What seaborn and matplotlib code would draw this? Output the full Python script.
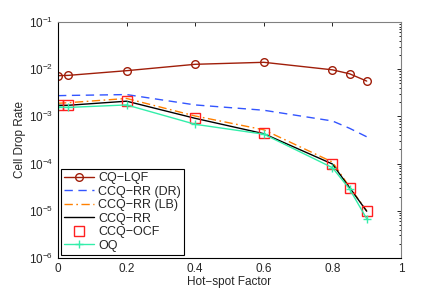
import matplotlib
matplotlib.use("Agg")
import matplotlib.pyplot as plt
import seaborn as sns
import pandas as pd
import numpy as np

x = [0, 0.03, 0.2, 0.4, 0.6, 0.8, 0.85, 0.9]
cq_lqf = [7.3e-3, 7.4e-3, 9.3e-3, 1.27e-2, 1.4e-2, 9.7e-3, 8.0e-3, 5.6e-3]
ccq_rr_dr = [2.75e-3, 2.78e-3, 2.9e-3, 1.75e-3, 1.35e-3, 8.0e-4, 5.6e-4, 3.7e-4]
ccq_rr_lb = [1.9e-3, 1.95e-3, 2.4e-3, 1.02e-3, 5.2e-4, 1.08e-4, 3.2e-5, 1.0e-5]
ccq_rr = [1.72e-3, 1.72e-3, 2.1e-3, 9.1e-4, 4.3e-4, 9.8e-5, 3.1e-5, 9.8e-6]
ccq_ocf = [1.75e-3, 1.75e-3, 2.15e-3, 9.2e-4, 4.4e-4, 9.6e-5, 3.1e-5, 9.8e-6]
oq = [1.6e-3, 1.55e-3, 1.75e-3, 6.8e-4, 4.2e-4, 8.2e-5, 2.9e-5, 6.8e-6]

labels = ["CQ\u2212LQF", "CCQ\u2212RR (DR)", "CCQ\u2212RR (LB)", "CCQ\u2212RR", "CCQ\u2212OCF", "OQ"]
xticks = [0, 0.2, 0.4, 0.6, 0.8, 1]
xticklabels = ["0", "0.2", "0.4", "0.6", "0.8", "1"]

sns.set_style("white")
plt.rcParams['font.family'] = ['Liberation Sans', 'DejaVu Sans']
plt.rcParams['mathtext.fontset'] = 'custom'
plt.rcParams['mathtext.rm'] = 'Liberation Sans'
plt.rcParams['mathtext.it'] = 'Liberation Sans'

fig = plt.figure(figsize=(4.43, 2.91), dpi=100)
ax = fig.add_axes([58/443, 33/291, 343/443, 236/291])

series = [cq_lqf, ccq_rr_dr, ccq_rr_lb, ccq_rr, ccq_ocf, oq]
df = pd.DataFrame({
    "x": x * 6,
    "y": sum(series, []),
    "s": sum([[l] * len(x) for l in labels], []),
})

styles = {
    labels[0]: dict(color="#a01e0a", ls="-", marker="o", mfc="none", ms=5.5, lw=1.0, mew=1.0),
    labels[1]: dict(color="#3355ff", ls=(0, (6, 4)), marker=None, lw=1.0),
    labels[2]: dict(color="#ff8000", ls=(0, (6, 2.5, 1.2, 2.5)), marker=None, lw=1.0),
    labels[3]: dict(color="black", ls="-", marker=None, lw=1.0),
    labels[4]: dict(color="#ff2020", ls="none", marker="s", mfc="none", ms=7, mew=1.0),
    labels[5]: dict(color="#33eeaa", ls="-", marker="+", ms=6, lw=1.0, mew=1.0),
}

for lab in labels:
    d = df[df.s == lab]
    st = styles[lab]
    sns.lineplot(data=d, x="x", y="y", ax=ax, label=lab, color=st["color"],
                 linestyle=st["ls"] if st["ls"] != "none" else "-",
                 lw=st.get("lw", 1.0), marker=st.get("marker"),
                 markersize=st.get("ms", 6), markerfacecolor=st.get("mfc", st["color"]),
                 markeredgecolor=st["color"], markeredgewidth=st.get("mew", 1.0))
    if st["ls"] == "none":
        ax.lines[-1].set_linestyle("none")

ax.set_yscale("log")
ax.set_xlim(0, 1)
ax.set_ylim(1e-6, 1e-1)
ax.set_xticks(xticks)
ax.set_xticklabels(xticklabels)
ax.set_yticks([1e-6, 1e-5, 1e-4, 1e-3, 1e-2, 1e-1])
ax.tick_params(axis="both", which="both", direction="in", top=True, right=True,
               labelsize=8.5, length=3, width=0.6, color="black")
ax.tick_params(axis="both", which="minor", length=1.8)
ax.minorticks_on()
ax.tick_params(axis="x", which="minor", bottom=False, top=False)
for name, sp in ax.spines.items():
    sp.set_color("black" if name in ("left", "bottom") else "#808080")
    sp.set_linewidth(0.8)
ax.set_xlabel("Hot\u2212spot Factor", fontsize=8.5, labelpad=1)
ax.set_ylabel("Cell Drop Rate", fontsize=8.5, labelpad=2)

# legend
handles, lbls = ax.get_legend_handles_labels()
for h in handles:
    if h.get_label() == labels[4]:
        h.set_linestyle("none")
leg = ax.legend(handles, lbls, loc="lower left", fontsize=9, frameon=True,
                fancybox=False, edgecolor="black", framealpha=1, handlelength=2.4,
                borderpad=0.25, labelspacing=0.12, handletextpad=0.3,
                borderaxespad=0.25)
leg.get_frame().set_linewidth(0.8)

fig.savefig("out.png", dpi=100)
